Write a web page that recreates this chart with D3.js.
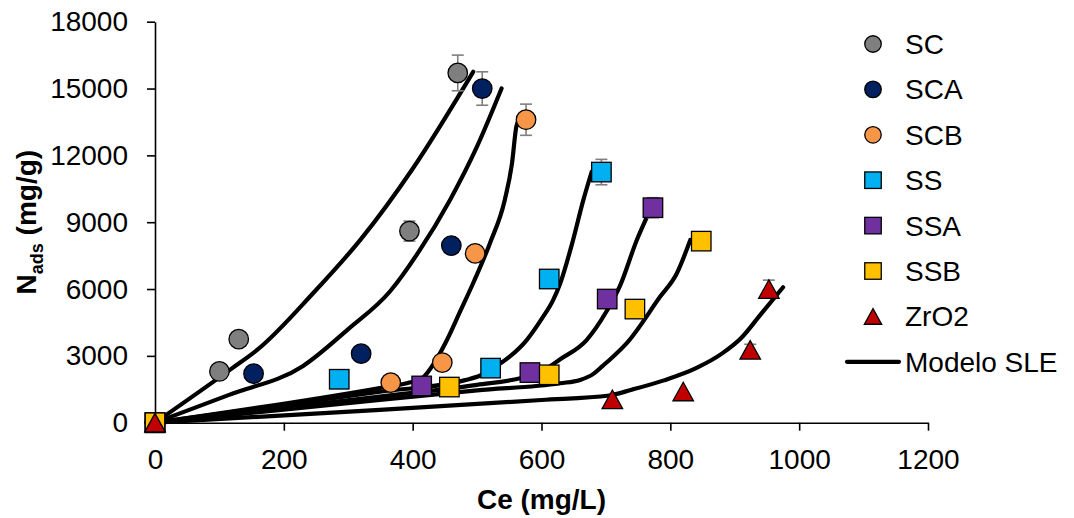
<!DOCTYPE html>
<html>
<head>
<meta charset="utf-8">
<script src="https://cdn.jsdelivr.net/npm/d3@7"></script>
<style>
  body { margin: 0; background: #fff; }
  svg { display: block; font-family: "Liberation Sans", Arial, sans-serif; }
</style>
</head>
<body>
<svg id="chart" width="1074" height="518"></svg>
<script>
// ---- Data: adsorption isotherms, Ce (mg/L) vs Nads (mg/g) ----
const seriesNames = ["SC", "SCA", "SCB", "SS", "SSA", "SSB", "ZrO2"];

// Experimental points [Ce, Nads] and their error bars (± mg/g)
const pointsSC   = [[0, 0], [100, 2300], [130, 3750], [395, 8600], [470, 15700]];
const errorsSC   = [0, 0, 0, 450, 800];
const pointsSCA  = [[0, 0], [153, 2200], [320, 3100], [460, 7950], [508, 15000]];
const errorsSCA  = [0, 0, 0, 0, 750];
const pointsSCB  = [[0, 0], [366, 1800], [446, 2700], [497, 7600], [576, 13600]];
const errorsSCB  = [0, 0, 0, 0, 700];
const pointsSS   = [[0, 0], [286, 1950], [521, 2450], [612, 6450], [693, 11250]];
const errorsSS   = [0, 0, 0, 0, 570];
const pointsSSA  = [[0, 0], [414, 1650], [582, 2250], [702, 5550], [773, 9650]];
const errorsSSA  = [0, 0, 0, 0, 450];
const pointsSSB  = [[0, 0], [457, 1600], [612, 2150], [745, 5100], [848, 8150]];
const errorsSSB  = [0, 0, 0, 0, 0];
const pointsZrO2 = [[0, 0], [710, 1050], [820, 1400], [924, 3270], [953, 6000]];
const errorsZrO2 = [0, 0, 0, 250, 400];

// SLE model curves [Ce, Nads]
const modelSC   = [[0, 0], [120, 2450], [160, 3300], [245, 5800], [320, 8250], [400, 11400], [494, 15750]];
const modelSCA  = [[0, 0], [115, 1250], [230, 2550], [300, 4200], [365, 5900], [410, 7700], [458, 10000],
                   [500, 12400], [538, 15000]];
const modelSCB  = [[0, 0], [349, 1560], [395, 1800], [415, 2000], [435, 2750], [453, 3700], [473, 4950],
                   [494, 6270], [520, 8060], [543, 10000], [554, 11600], [561, 13300], [566, 13650]];
const modelSS   = [[0, 0], [349, 1390], [480, 1900], [505, 2120], [525, 2450], [550, 2950], [577, 3710],
                   [600, 4650], [618, 5500], [629, 6250], [649, 8200], [665, 10000], [678, 11270]];
const modelSSA  = [[0, 0], [349, 1170], [500, 1700], [570, 2020], [600, 2300], [629, 2850], [670, 3710],
                   [701, 5000], [722, 6150], [748, 8200], [764, 9250]];
const modelSSB  = [[0, 0], [349, 1020], [500, 1450], [629, 1770], [660, 1920], [680, 2180], [695, 2550],
                   [711, 2960], [732, 3560], [784, 5650], [810, 6700], [831, 8200]];
const modelZrO2 = [[0, 0], [349, 575], [600, 1020], [705, 1220], [740, 1480], [790, 1900], [840, 2450],
                   [880, 3100], [910, 3800], [940, 4850], [975, 6080]];

const xTicks = [0, 200, 400, 600, 800, 1000, 1200];
const yTicks = [0, 3000, 6000, 9000, 12000, 15000, 18000];

// ---- Styling per series ----
const fills  = ["#7F7F7F", "#002060", "#F79646", "#00B0F0", "#7030A0", "#FFC000", "#C00000"];
const shapes = ["circle", "circle", "circle", "square", "square", "square", "triangle"];
const allPoints = [pointsSC, pointsSCA, pointsSCB, pointsSS, pointsSSA, pointsSSB, pointsZrO2];
const allErrors = [errorsSC, errorsSCA, errorsSCB, errorsSS, errorsSSA, errorsSSB, errorsZrO2];
const allModels = [modelSC, modelSCA, modelSCB, modelSS, modelSSA, modelSSB, modelZrO2];

const svg = d3.select("#chart");
const FONT = 28;

const x = d3.scaleLinear().domain([0, 1200]).range([155, 928]);
const y = d3.scaleLinear().domain([0, 18000]).range([422.7, 21.7]);

// ---- Axes ----
const xAxis = svg.append("g")
  .attr("transform", `translate(0,${y(0)})`)
  .call(d3.axisBottom(x).tickValues(xTicks).tickFormat(d3.format("d"))
    .tickSize(8).tickSizeOuter(0).tickPadding(18));
const yAxis = svg.append("g")
  .attr("transform", `translate(${x(0)},0)`)
  .call(d3.axisLeft(y).tickValues(yTicks).tickFormat(d3.format("d"))
    .tickSize(8).tickSizeOuter(0).tickPadding(19));

[xAxis, yAxis].forEach(g => {
  g.select(".domain").attr("stroke", "#000").attr("stroke-width", 1.6);
  g.selectAll(".tick line").attr("stroke", "#000").attr("stroke-width", 1.6);
  g.selectAll(".tick text")
    .attr("font-family", "Liberation Sans, Arial, sans-serif")
    .attr("font-size", FONT)
    .attr("fill", "#000");
});

// Axis titles
svg.append("text")
  .attr("x", (x(0) + x(1200)) / 2)
  .attr("y", 509)
  .attr("text-anchor", "middle")
  .attr("font-size", FONT)
  .attr("font-weight", "bold")
  .text("Ce (mg/L)");

const yTitle = svg.append("text")
  .attr("transform", `translate(36,${(y(0) + y(18000)) / 2}) rotate(-90)`)
  .attr("text-anchor", "middle")
  .attr("font-size", FONT)
  .attr("font-weight", "bold");
yTitle.append("tspan").text("N");
yTitle.append("tspan").attr("font-size", 18).attr("dy", 7).text("ads");
yTitle.append("tspan").attr("dy", -7).text(" (mg/g)");

// ---- Model curves ----
const line = d3.line()
  .x(d => x(d[0]))
  .y(d => y(d[1]))
  .curve(d3.curveMonotoneX);

svg.append("g").selectAll("path")
  .data(allModels)
  .join("path")
  .attr("d", line)
  .attr("fill", "none")
  .attr("stroke", "#000")
  .attr("stroke-width", 4.2)
  .attr("stroke-linejoin", "round")
  .attr("stroke-linecap", "round");

// ---- Error bars ----
const errG = svg.append("g").attr("stroke", "#7F7F7F").attr("stroke-width", 1.6);
allPoints.forEach((pts, i) => {
  pts.forEach((p, j) => {
    const e = allErrors[i][j];
    if (!e) return;
    const cx = x(p[0]), top = y(p[1] + e), bot = y(p[1] - e);
    errG.append("line").attr("x1", cx).attr("x2", cx).attr("y1", top).attr("y2", bot);
    errG.append("line").attr("x1", cx - 6).attr("x2", cx + 6).attr("y1", top).attr("y2", top);
    errG.append("line").attr("x1", cx - 6).attr("x2", cx + 6).attr("y1", bot).attr("y2", bot);
  });
});

// ---- Markers ----
function drawMarker(g, shape, cx, cy, size, fill) {
  if (shape === "circle") {
    g.append("circle").attr("cx", cx).attr("cy", cy).attr("r", size / 2)
      .attr("fill", fill).attr("stroke", "#000").attr("stroke-width", 1.3);
  } else if (shape === "square") {
    g.append("rect").attr("x", cx - size / 2).attr("y", cy - size / 2)
      .attr("width", size).attr("height", size)
      .attr("fill", fill).attr("stroke", "#000").attr("stroke-width", 1.3);
  } else {
    const w = size * 1.05, h = size * 0.95;
    g.append("path")
      .attr("d", `M${cx},${cy - h / 2}L${cx + w / 2},${cy + h / 2}L${cx - w / 2},${cy + h / 2}Z`)
      .attr("fill", fill).attr("stroke", "#000").attr("stroke-width", 1.3)
      .attr("stroke-linejoin", "miter");
  }
}

const markG = svg.append("g");
allPoints.forEach((pts, i) => {
  pts.forEach(p => drawMarker(markG, shapes[i], x(p[0]), y(p[1]), 19.5, fills[i]));
});

// ---- Legend ----
const legend = svg.append("g");
const legX = 873, legTextX = 905, legY0 = 44, legStep = 45.4;
seriesNames.forEach((name, i) => {
  const cy = legY0 + i * legStep;
  drawMarker(legend, shapes[i], legX, cy, 16.5, fills[i]);
  legend.append("text").attr("x", legTextX).attr("y", cy).attr("dy", "0.36em")
    .attr("font-size", FONT).text(name);
});
const lineRowY = legY0 + seriesNames.length * legStep;
legend.append("line")
  .attr("x1", 847).attr("x2", 899).attr("y1", lineRowY).attr("y2", lineRowY)
  .attr("stroke", "#000").attr("stroke-width", 4.2).attr("stroke-linecap", "round");
legend.append("text").attr("x", legTextX).attr("y", lineRowY).attr("dy", "0.36em")
  .attr("font-size", FONT).text("Modelo SLE");
</script>
</body>
</html>
